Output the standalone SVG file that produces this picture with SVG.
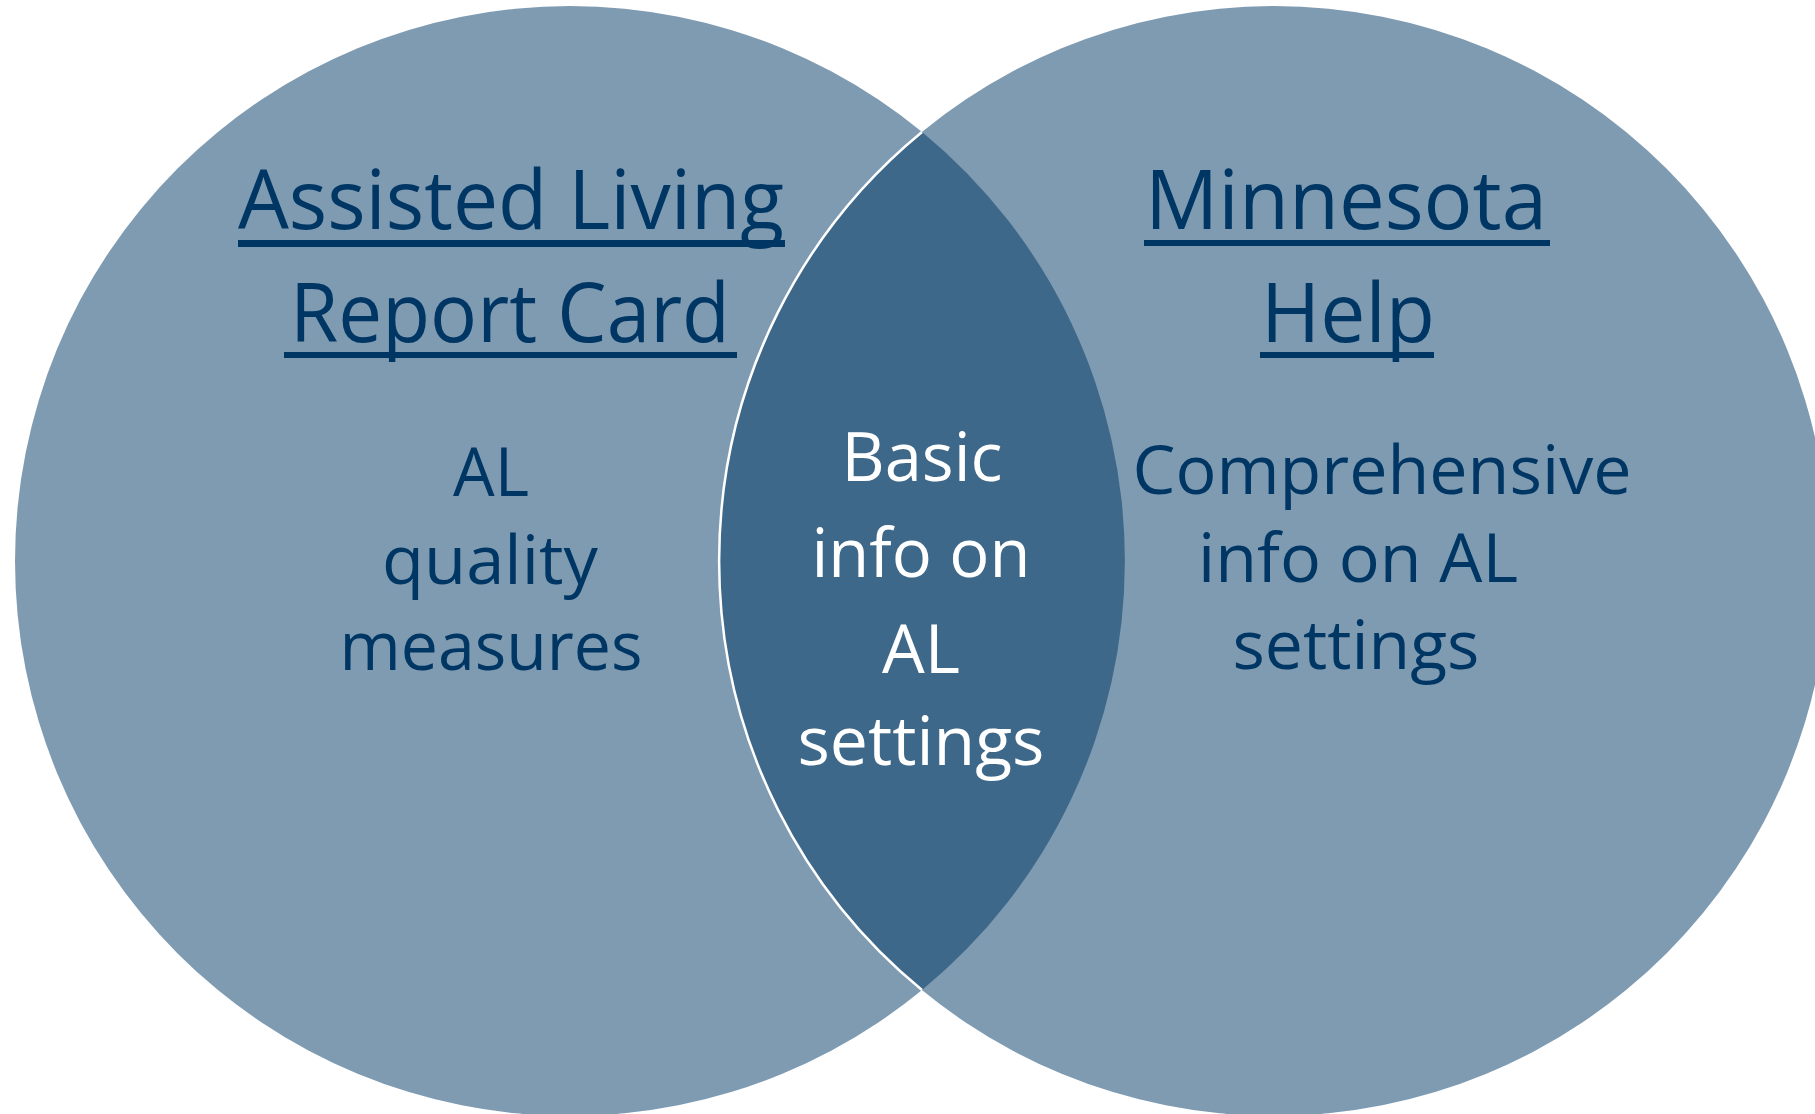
<svg xmlns="http://www.w3.org/2000/svg" width="1815" height="1114" viewBox="0 0 1815 1114">
<style>
.circ{fill:#7f9bb2}
.lens{fill:#3e6889}
.t{font-family:"Open Sans","Liberation Sans",sans-serif;text-anchor:middle}
.head{font-size:83px;fill:#003663}
.body{font-size:67px;fill:#003663}
.mid{font-size:67px;fill:#ffffff}
.ul{fill:#003663}
</style>
<rect width="1815" height="1114" fill="#ffffff"/>
<g id="left-circle">
<circle class="circ" cx="570" cy="561" r="555"/>
</g>
<g id="right-circle">
<circle class="circ" cx="1274" cy="561" r="555"/>
</g>
<g id="overlap">
<path class="lens" d="M922,132 A555,555 0 0 1 922,990 A555,555 0 0 1 922,132 Z"/>
<path d="M922,132 A555,555 0 0 0 922,990" fill="none" stroke="#ffffff" stroke-width="2.5"/>
</g>
<g id="left-label">
<text class="t head" x="511" y="229" textLength="546" lengthAdjust="spacingAndGlyphs">Assisted Living</text>
<rect class="ul" x="238" y="240" width="547" height="7"/>
<text class="t head" x="510" y="342" textLength="440" lengthAdjust="spacingAndGlyphs">Report Card</text>
<rect class="ul" x="284" y="352" width="453" height="6"/>
<text class="t body" x="491" y="496" textLength="76" lengthAdjust="spacingAndGlyphs">AL</text>
<text class="t body" x="490" y="584" textLength="216" lengthAdjust="spacingAndGlyphs">quality</text>
<text class="t body" x="491" y="670" textLength="303" lengthAdjust="spacingAndGlyphs">measures</text>
</g>
<g id="right-label">
<text class="t head" x="1346" y="229" textLength="402" lengthAdjust="spacingAndGlyphs">Minnesota</text>
<rect class="ul" x="1144" y="240" width="406" height="6"/>
<text class="t head" x="1348" y="342" textLength="174" lengthAdjust="spacingAndGlyphs">Help</text>
<rect class="ul" x="1260" y="352" width="174" height="6"/>
<text class="t body" x="1382" y="494" textLength="499" lengthAdjust="spacingAndGlyphs">Comprehensive</text>
<text class="t body" x="1358" y="582" textLength="320" lengthAdjust="spacingAndGlyphs">info on AL</text>
<text class="t body" x="1356" y="669" textLength="247" lengthAdjust="spacingAndGlyphs">settings</text>
</g>
<g id="overlap-label">
<text class="t mid" x="922" y="481" textLength="161" lengthAdjust="spacingAndGlyphs">Basic</text>
<text class="t mid" x="921" y="577" textLength="219" lengthAdjust="spacingAndGlyphs">info on</text>
<text class="t mid" x="921" y="673" textLength="78" lengthAdjust="spacingAndGlyphs">AL</text>
<text class="t mid" x="921" y="765" textLength="247" lengthAdjust="spacingAndGlyphs">settings</text>
</g>
<g id="connectors"/>
</svg>
